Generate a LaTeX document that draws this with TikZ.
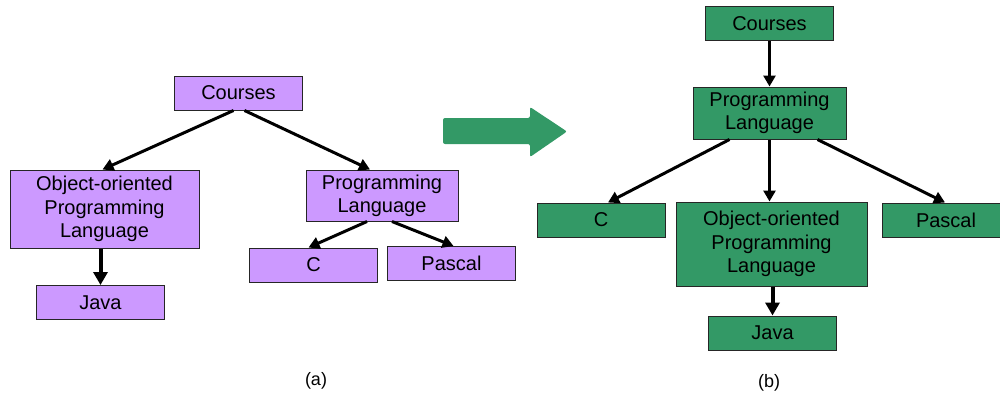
\documentclass[tikz,border=0pt]{standalone}
\usepackage{fontspec}
\setmainfont{Liberation Sans}
\usepackage{tikz}
\usetikzlibrary{arrows.meta}
\definecolor{lilac}{HTML}{CC99FF}
\definecolor{leaf}{HTML}{339966}
\tikzset{every picture/.style={line width=1pt}}

\begin{document}
\begin{tikzpicture}[x=1pt,y=-1pt,
        box/.style={draw=black!85, line width=1pt, minimum width=128pt, minimum height=34pt,
            inner sep=2pt, align=center, font=\fontsize{20}{23.3}\selectfont},
        boxa/.style={box, fill=lilac},
        boxb/.style={box, fill=leaf},
        link/.style={-{Triangle[length=11pt,width=12pt]}, line width=3pt},
        heavy/.style={-{Triangle[length=13pt,width=14pt]}, line width=4pt}]
        \useasboundingbox (0,0) rectangle (1000,396);
        % (a) before
        \node[boxa] (coursesA) at (238.5,93) {Courses};
        \node[boxa,node distance=116pt,below of=coursesA,xshift=-134pt,minimum width=189pt,minimum height=78pt] (oopA) {Object-oriented\\Programming\\Language};
        \node[boxa,node distance=93.5pt,below of=oopA,xshift=-4pt] (javaA) {Java};
        \node[boxa,node distance=102.5pt,below of=coursesA,xshift=143.5pt,minimum width=152pt,minimum height=51pt] (plA) {Programming\\Language};
        \node[boxa,node distance=69.5pt,below of=plA,xshift=-68.5pt] (cA) {C};
        \node[boxa,node distance=68pt,below of=plA,xshift=69.5pt] (pascalA) {Pascal};
        \node[font=\fontsize{18}{20}\selectfont] (capA) at (316,381) {(a)};
        \path[link]
            ([xshift=-5pt]coursesA.south) edge ([xshift=-2pt]oopA.north)
            ([xshift=6pt]coursesA.south) edge ([xshift=-12pt]plA.north)
            ([xshift=-15pt]plA.south) edge ([xshift=-5pt]cA.north)
            ([xshift=10pt]plA.south) edge ([xshift=2pt]pascalA.north)
            ;
        \draw[heavy] (oopA.south -| javaA) -- (javaA.north);
        % transform arrow
        \fill[leaf,rounded corners=2pt] (443,118) -- (530,118) -- (530,107) -- (567,131.5)
            -- (530,157) -- (530,144) -- (443,144) -- cycle;
        % (b) after
        \node[boxb] (coursesB) at (769.5,23.5) {Courses};
        \node[boxb,node distance=89.5pt,below of=coursesB,minimum width=153pt,minimum height=52pt] (plB) {Programming\\Language};
        \node[boxb,node distance=107pt,below of=plB,xshift=-168.5pt] (cB) {C};
        \node[boxb,node distance=131pt,below of=plB,xshift=2pt,minimum width=191pt,minimum height=84pt] (oopB) {Object-oriented\\Programming\\Language};
        \node[boxb,node distance=107pt,below of=plB,xshift=176.5pt] (pascalB) {Pascal};
        \node[boxb,node distance=89pt,below of=oopB,xshift=1pt] (javaB) {Java};
        \node[font=\fontsize{18}{20}\selectfont] (capB) at (769,383) {(b)};
        \path[link]
            (coursesB) edge (plB)
            ([xshift=-40pt]plB.south) edge ([xshift=7pt]cB.north)
            (plB.south) edge (plB.south |- oopB.north)
            ([xshift=48pt]plB.south) edge ([xshift=-1pt]pascalB.north)
            ;
        \draw[heavy] (oopB.south -| javaB) -- (javaB.north);
\end{tikzpicture}
\end{document}
